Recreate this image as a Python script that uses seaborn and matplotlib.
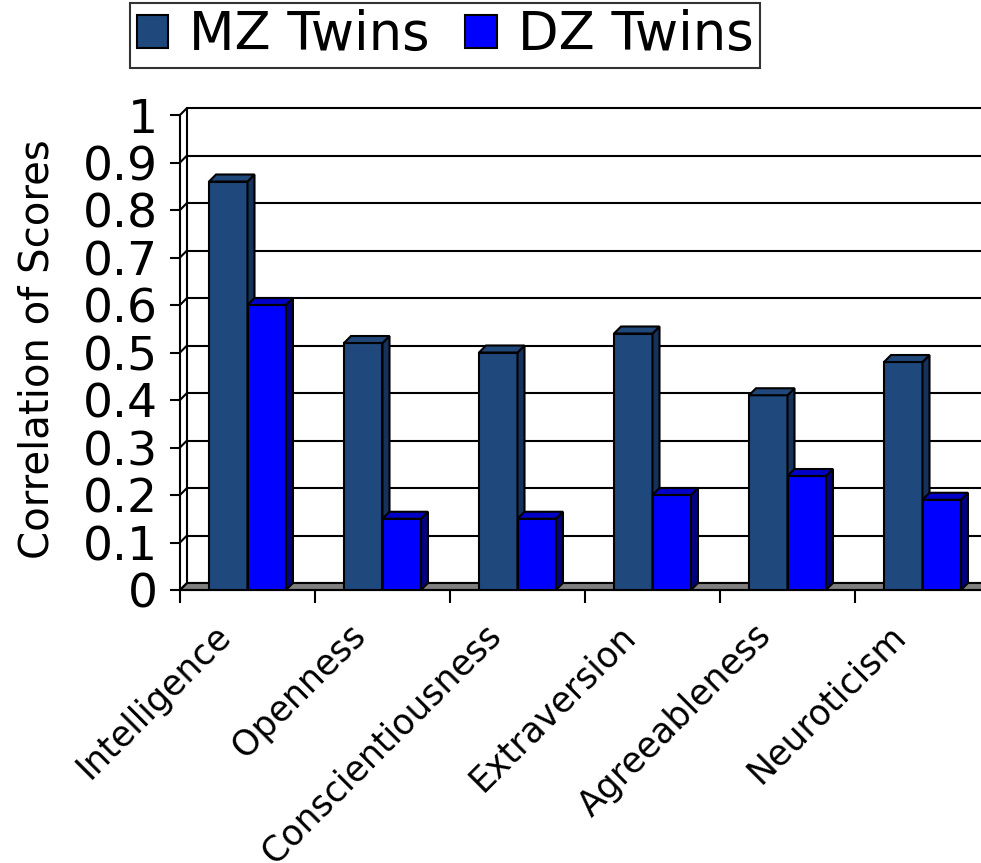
import matplotlib
matplotlib.use('Agg')
import matplotlib.pyplot as plt
from matplotlib.patches import Polygon, Patch
from matplotlib.transforms import ScaledTranslation
import pandas as pd
import seaborn as sns

# Data
traits = ['Intelligence', 'Openness', 'Conscientiousness', 'Extraversion',
          'Agreeableness', 'Neuroticism']
mz_twins = [0.86, 0.52, 0.50, 0.54, 0.41, 0.48]
dz_twins = [0.60, 0.15, 0.15, 0.20, 0.24, 0.19]
y_ticks = [0, 0.1, 0.2, 0.3, 0.4, 0.5, 0.6, 0.7, 0.8, 0.9, 1.0]
y_tick_labels = ['0', '0.1', '0.2', '0.3', '0.4', '0.5', '0.6', '0.7', '0.8', '0.9', '1']
series = ['MZ Twins', 'DZ Twins']

df = pd.DataFrame({
    'trait': traits * 2,
    'score': mz_twins + dz_twins,
    'group': [series[0]] * len(traits) + [series[1]] * len(traits),
})

front = {'MZ Twins': '#1F497D', 'DZ Twins': '#0000FF'}
side = {'MZ Twins': '#17325A', 'DZ Twins': '#000080'}
top = {'MZ Twins': '#21487A', 'DZ Twins': '#0000C8'}

sns.set_style('white')
plt.rcParams['font.family'] = ['DejaVu Sans']
plt.rcParams.update({'text.color': 'black', 'axes.labelcolor': 'black',
                     'xtick.color': 'black', 'ytick.color': 'black'})

W, H = 981, 863
fig = plt.figure(figsize=(W / 100, H / 100), dpi=100)
ax_left, ax_bottom = 180 / W, 1 - 590 / H
ax_w, ax_h = 810 / W, 482 / H
ax = fig.add_axes([ax_left, ax_bottom, ax_w, ax_h])

sns.barplot(data=df, x='trait', y='score', hue='group', hue_order=series,
            palette=front, width=0.57, edgecolor='black', linewidth=1.5,
            saturation=1, ax=ax, legend=False, zorder=3)

n = len(traits)
x0, x1 = -0.5, n - 0.5
depth_px = 7
dx = depth_px * (x1 - x0) / (ax_w * W)
dy = depth_px / 475
ax.set_xlim(x0, x1)
ax.set_ylim(0, 1 + dy)

# 3D-style side and top faces for every bar
for k, (cont, name) in enumerate(zip(ax.containers, series)):
    z = 3 + k
    for p in cont.patches:
        p.set_zorder(z)
        bx, bw, bh = p.get_x(), p.get_width(), p.get_height()
        ax.add_patch(Polygon([(bx + bw, 0), (bx + bw + dx, dy), (bx + bw + dx, bh + dy), (bx + bw, bh)],
                             closed=True, facecolor=side[name], edgecolor='black', lw=1.5, zorder=z))
        ax.add_patch(Polygon([(bx, bh), (bx + dx, bh + dy), (bx + bw + dx, bh + dy), (bx + bw, bh)],
                             closed=True, facecolor=top[name], edgecolor='black', lw=1.5, zorder=z))

# back wall grid lines and floor
for v in y_ticks:
    ax.plot([x0 + dx, x1 + dx], [v + dy, v + dy], color='black', lw=1.5, zorder=1, clip_on=False)
ax.add_patch(Polygon([(x0, 0), (x1, 0), (x1 + dx, dy), (x0 + dx, dy)], closed=True,
                     facecolor='#808080', edgecolor='black', lw=1.5, zorder=2, clip_on=False))
# left wall
ax.plot([x0 + dx, x0 + dx], [dy, 1 + dy], color='black', lw=1.5, zorder=2, clip_on=False)
for v in y_ticks:
    ax.plot([x0, x0 + dx], [v, v + dy], color='black', lw=1.5, zorder=2, clip_on=False)

for s in ['top', 'right']:
    ax.spines[s].set_visible(False)
for s in ['left', 'bottom']:
    ax.spines[s].set_color('black')
    ax.spines[s].set_linewidth(1.5)
ax.spines['left'].set_bounds(0, 1)

ax.set_yticks(y_ticks)
ax.set_yticklabels(y_tick_labels, fontsize=34)
ax.tick_params(axis='y', direction='out', length=7, width=1.5, pad=9, left=True)
ax.set_xticks(range(n))
ax.set_xticklabels(traits, fontsize=25, rotation=45, ha='right', va='center',
                   rotation_mode='anchor')
ax.tick_params(axis='x', length=0, pad=29)
shift = ScaledTranslation(-0.22, 0, fig.dpi_scale_trans)
for lab in ax.get_xticklabels():
    lab.set_transform(lab.get_transform() + shift)
ax.set_xticks([i - 0.5 for i in range(n + 1)], minor=True)
ax.tick_params(axis='x', which='minor', direction='out', length=9, width=1.5, bottom=True)
ax.set_xlabel('')
ax.set_ylabel('Correlation of Scores', fontsize=29)
ax.yaxis.set_label_coords(-0.151, 0.5)
ax.grid(False)

handles = [Patch(facecolor=front[s], edgecolor='black', lw=1.5, label=s) for s in series]
leg = fig.legend(handles=handles, loc='upper center', bbox_to_anchor=(445 / W, 1 - 3 / H),
                 ncol=2, fontsize=38, frameon=True, fancybox=False, edgecolor='black',
                 handlelength=0.59, handleheight=0.59, handletextpad=0.4, columnspacing=0.68,
                 borderpad=0.12, borderaxespad=0)
leg.get_frame().set_linewidth(1.5)

fig.savefig('out.png', dpi=100, facecolor='white')
